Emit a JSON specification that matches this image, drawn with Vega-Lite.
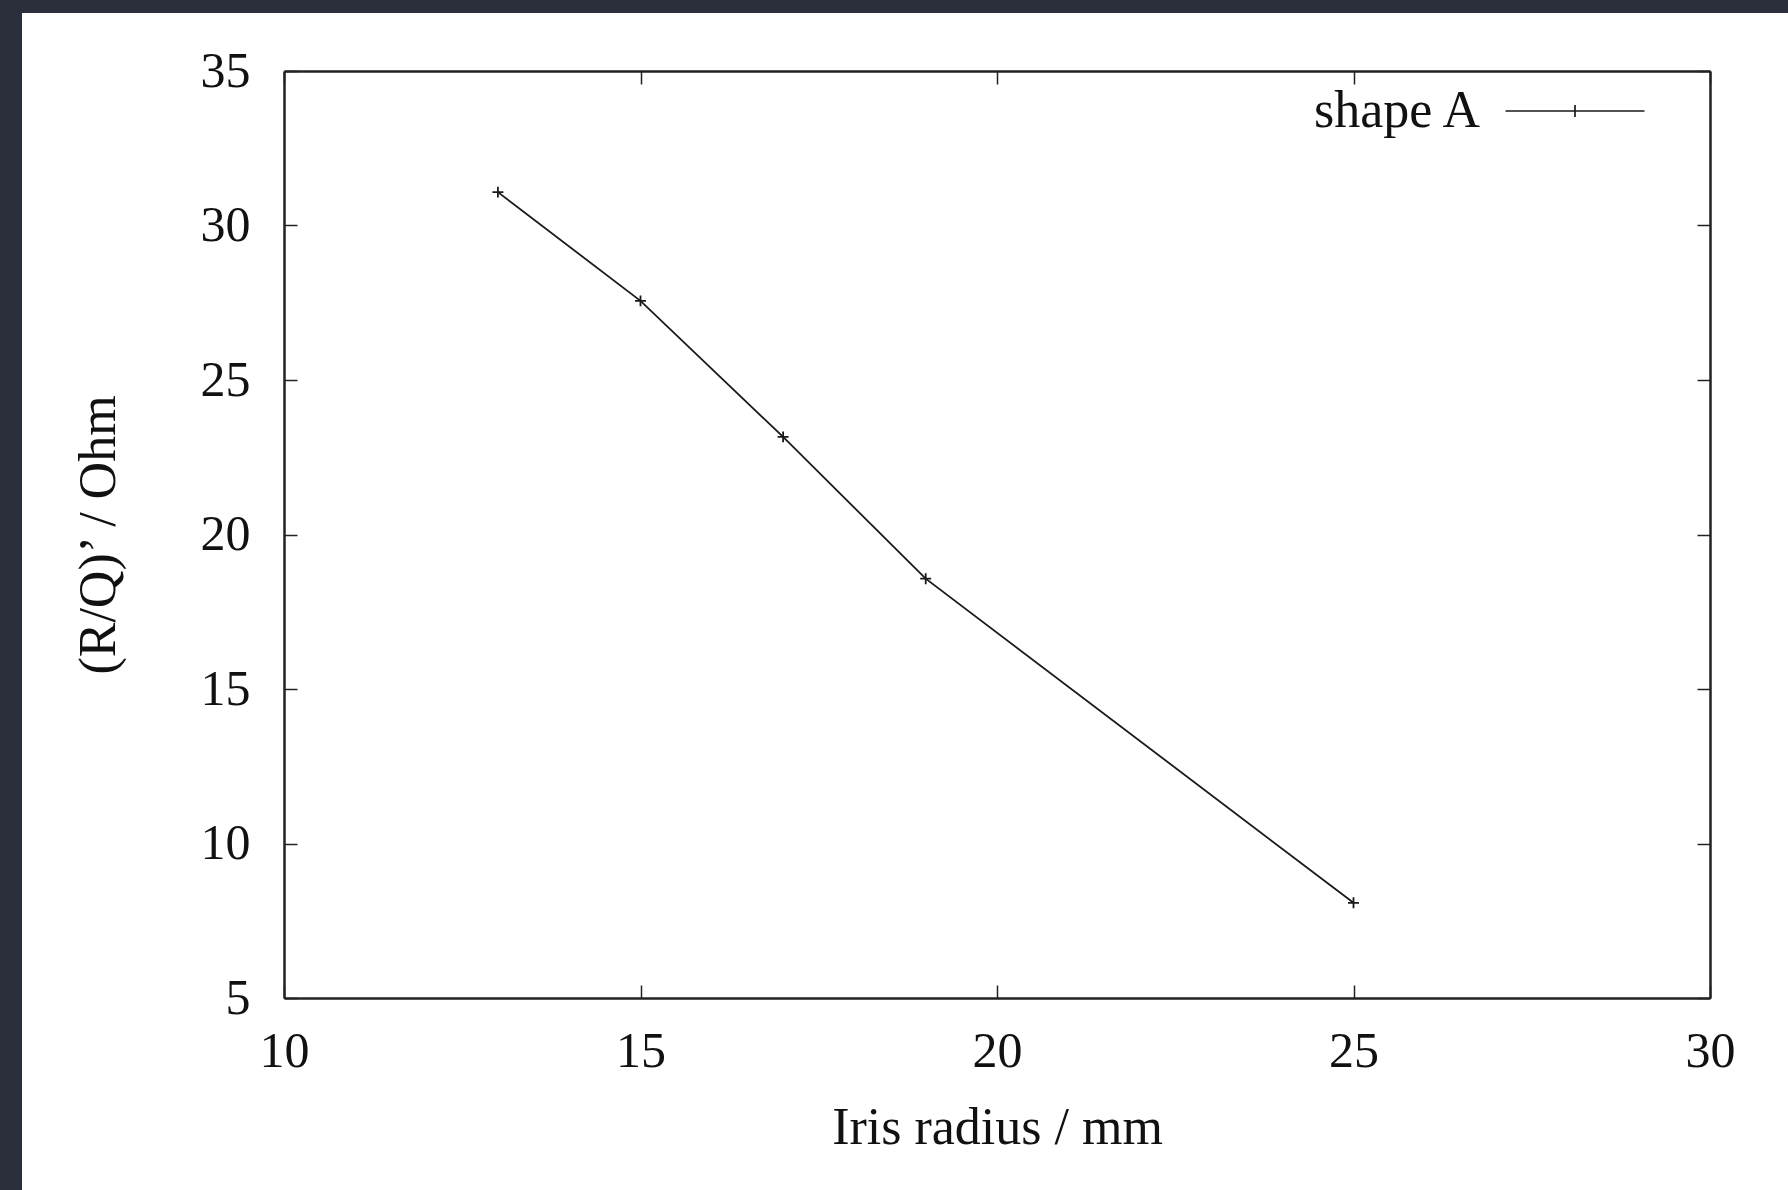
{
  "$schema": "https://vega.github.io/schema/vega-lite/v6.json",
  "width": 1426,
  "height": 927,
  "padding": {"left": 22, "top": 13, "right": 0, "bottom": 0},
  "autosize": {"type": "pad"},
  "background": "#2b2f3b",
  "config": {
    "view": {"stroke": null},
    "font": "Liberation Serif",
    "axis": {
      "grid": false,
      "domainColor": "#222222",
      "domainWidth": 2.5,
      "tickColor": "#222222",
      "tickWidth": 1.5,
      "tickSize": -13,
      "labelFont": "Liberation Serif",
      "labelFontSize": 50,
      "labelColor": "#111111",
      "labelFlush": false,
      "labelOverlap": false,
      "titleFont": "Liberation Serif",
      "titleFontSize": 52,
      "titleFontWeight": "normal",
      "titleColor": "#111111"
    },
    "legend": {
      "orient": "none",
      "legendX": 1265,
      "legendY": 14,
      "padding": 0,
      "labelFont": "Liberation Serif",
      "labelFontSize": 52,
      "labelColor": "#111111",
      "labelAlign": "right",
      "labelOffset": -121,
      "labelLimit": 0,
      "symbolType": "M-6.95,0H6.95M0,-0.6V0.6",
      "symbolSize": 400,
      "symbolStrokeWidth": 1.7,
      "symbolStrokeColor": "#1a1a1a",
      "symbolFillColor": "transparent"
    }
  },
  "data": {
    "values": [
      {"radius": 13, "rq": 31.08, "series": "shape A"},
      {"radius": 15, "rq": 27.56, "series": "shape A"},
      {"radius": 17, "rq": 23.16, "series": "shape A"},
      {"radius": 19, "rq": 18.57, "series": "shape A"},
      {"radius": 25, "rq": 8.08, "series": "shape A"}
    ]
  },
  "layer": [
    {
      "data": {"values": [{}]},
      "mark": {"type": "rect", "fill": "white", "strokeWidth": 0},
      "encoding": {
        "x": {"datum": 6.3254, "type": "quantitative", "scale": {"domain": [10, 30], "nice": false, "zero": false}, "axis": null},
        "x2": {"datum": 31.094},
        "y": {"datum": 36.877, "type": "quantitative", "scale": {"domain": [5, 35], "nice": false, "zero": false}, "axis": null},
        "y2": {"datum": -1.2136}
      }
    },
    {
      "mark": {"type": "line", "strokeWidth": 1.8},
      "encoding": {
        "x": {
          "field": "radius", "type": "quantitative",
          "scale": {"domain": [10, 30], "nice": false, "zero": false},
          "axis": {"orient": "bottom", "zindex": 2, "values": [10, 15, 20, 25, 30], "labelPadding": 41, "title": "Iris radius / mm", "titlePadding": 26}
        },
        "y": {
          "field": "rq", "type": "quantitative",
          "scale": {"domain": [5, 35], "nice": false, "zero": false},
          "axis": {"orient": "left", "zindex": 2, "values": [5, 10, 15, 20, 25, 30, 35], "labelPadding": 47, "title": "(R/Q)’ / Ohm", "titlePadding": 75}
        },
        "color": {"field": "series", "type": "nominal", "scale": {"range": ["#1a1a1a"]}, "legend": {"title": null}}
      }
    },
    {
      "mark": {"type": "point", "shape": "M-1,0H1M0,-1V1", "size": 120, "filled": false, "strokeWidth": 1.8, "color": "#1a1a1a", "opacity": 1},
      "encoding": {
        "x": {
          "field": "radius", "type": "quantitative",
          "scale": {"domain": [10, 30], "nice": false, "zero": false},
          "axis": {"orient": "top", "zindex": 2, "values": [10, 15, 20, 25, 30], "labels": false, "title": null}
        },
        "y": {
          "field": "rq", "type": "quantitative",
          "scale": {"domain": [5, 35], "nice": false, "zero": false},
          "axis": {"orient": "right", "zindex": 2, "values": [5, 10, 15, 20, 25, 30, 35], "labels": false, "title": null}
        }
      }
    }
  ],
  "resolve": {"axis": {"x": "independent", "y": "independent"}}
}
